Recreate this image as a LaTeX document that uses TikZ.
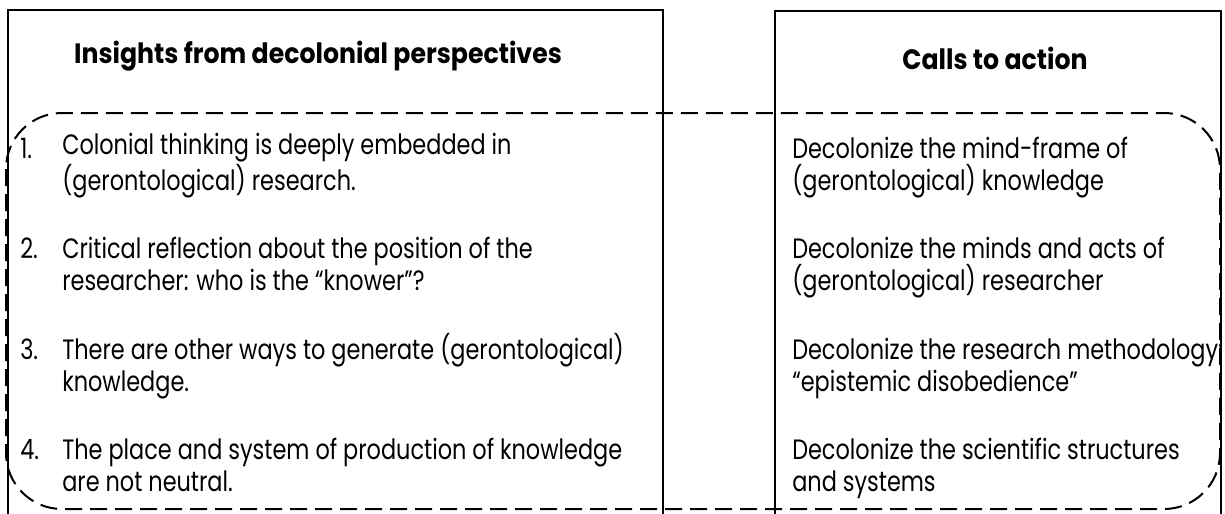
\documentclass[tikz,border=0pt]{standalone}
\usepackage{fontspec}
\setmainfont{Poppins}[FakeStretch=0.8, BoldFeatures={FakeStretch=0.9}]
\begin{document}
\begin{tikzpicture}[x=0.75pt,y=-0.75pt,
  box/.style={line width=1.5pt},
  dashbox/.style={line width=1.5pt, dash pattern=on 12.75pt off 6pt, rounded corners=42pt},
  body/.style={font=\fontsize{21}{24}\selectfont, anchor=base west, inner sep=0pt, align=left},
  title/.style={font=\fontsize{21}{24}\selectfont\bfseries, anchor=base, inner sep=0pt}]
\useasboundingbox (0,0) rectangle (1225,514);
\clip (0,0) rectangle (1225,514);
% boxes
\draw[box] (8,530) -- (8,10) -- (663,10) -- (663,530);
\draw[box] (775,530) -- (775,11) -- (1221,11) -- (1221,530);
% dashed group
\draw[dashbox] (6,113) rectangle (1220,509);
% titles
\node[title] (tl) at (318,63) {Insights from decolonial perspectives};
\node[title] (tr) at (995,69) {Calls to action};
% left items (base anchor = last line baseline)
\node[body] (n1) at (20,158) {1.};
\node[body] (l1) at (62,190) {Colonial thinking is deeply embedded in\\(gerontological) research.};
\node[body] (n2) at (20,258.5) {2.};
\node[body] (l2) at (62,290.5) {Critical reflection about the position of the\\researcher: who is the “knower”?};
\node[body] (n3) at (20,359) {3.};
\node[body] (l3) at (62,391) {There are other ways to generate (gerontological)\\knowledge.};
\node[body] (n4) at (20,459.5) {4.};
\node[body] (l4) at (62,491.5) {The place and system of production of knowledge\\are not neutral.};
% right items
\node[body] (r1) at (792,190) {Decolonize the mind-frame of\\(gerontological) knowledge};
\node[body] (r2) at (792,290.5) {Decolonize the minds and acts of\\(gerontological) researcher};
\node[body] (r3) at (792,391) {Decolonize the research methodology:\\“epistemic disobedience”};
\node[body] (r4) at (792,491.5) {Decolonize the scientific structures\\and systems};
\end{tikzpicture}
\end{document}
